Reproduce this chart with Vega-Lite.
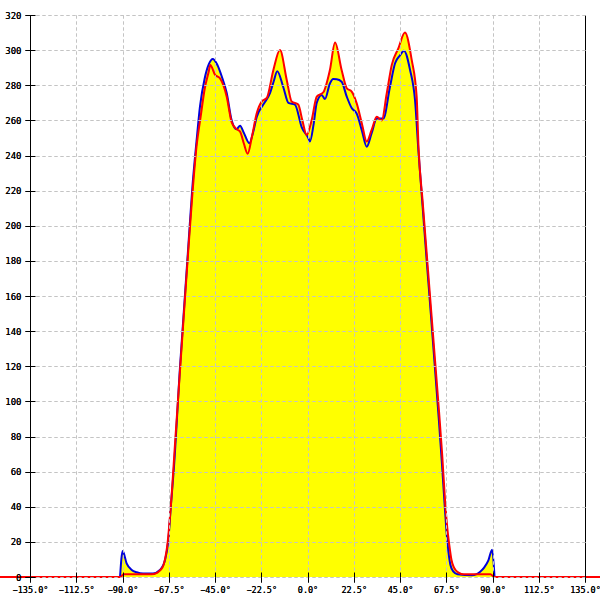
{
  "$schema": "https://vega.github.io/schema/vega-lite/v6.json",
  "width": 555,
  "height": 562,
  "autosize": "none",
  "padding": {"left": 30, "top": 15, "right": 15, "bottom": 23},
  "background": "white",
  "config": {
    "view": {"stroke": null},
    "axis": {
      "labelFont": "DejaVu Sans Mono",
      "labelFontSize": 9,
      "labelColor": "black",
      "tickColor": "black",
      "domainColor": "black",
      "gridColor": "#c4c4c4",
      "gridDash": [3, 3],
      "tickSize": 5,
      "titleFontSize": 0
    }
  },
  "resolve": {"axis": {"x": "independent", "y": "independent"}},
  "data": {
    "values": [
      {"s": "red", "a": -150, "v": 0},
      {"s": "red", "a": -91, "v": 0},
      {"s": "red", "a": -89.5, "v": 1.5},
      {"s": "red", "a": -76, "v": 1.5},
      {"s": "red", "a": -73, "v": 2.5},
      {"s": "red", "a": -71.5, "v": 4},
      {"s": "red", "a": -70, "v": 7},
      {"s": "red", "a": -69, "v": 12},
      {"s": "red", "a": -68, "v": 20},
      {"s": "red", "a": -67, "v": 33},
      {"s": "red", "a": -66, "v": 48},
      {"s": "red", "a": -64.5, "v": 75},
      {"s": "red", "a": -62, "v": 118},
      {"s": "red", "a": -60, "v": 152},
      {"s": "red", "a": -58, "v": 186},
      {"s": "red", "a": -56, "v": 218},
      {"s": "red", "a": -54, "v": 245},
      {"s": "red", "a": -52, "v": 262},
      {"s": "red", "a": -50, "v": 278},
      {"s": "red", "a": -48, "v": 288},
      {"s": "red", "a": -47.3, "v": 291.6},
      {"s": "red", "a": -45, "v": 286},
      {"s": "red", "a": -42.6, "v": 284},
      {"s": "red", "a": -39.3, "v": 273.5},
      {"s": "red", "a": -36.9, "v": 259},
      {"s": "red", "a": -34.5, "v": 255},
      {"s": "red", "a": -32.8, "v": 253.6},
      {"s": "red", "a": -31, "v": 247},
      {"s": "red", "a": -29.1, "v": 241},
      {"s": "red", "a": -27, "v": 251},
      {"s": "red", "a": -24.7, "v": 264},
      {"s": "red", "a": -22.3, "v": 270.7},
      {"s": "red", "a": -19.8, "v": 272.8},
      {"s": "red", "a": -16.6, "v": 288.7},
      {"s": "red", "a": -13.4, "v": 300},
      {"s": "red", "a": -10.1, "v": 283},
      {"s": "red", "a": -7.7, "v": 270.7},
      {"s": "red", "a": -4.5, "v": 269},
      {"s": "red", "a": -2.5, "v": 260},
      {"s": "red", "a": -0.4, "v": 251.7},
      {"s": "red", "a": 2, "v": 260},
      {"s": "red", "a": 4.5, "v": 273.5},
      {"s": "red", "a": 7.7, "v": 276},
      {"s": "red", "a": 10.9, "v": 288.7},
      {"s": "red", "a": 13.4, "v": 304.3},
      {"s": "red", "a": 16.6, "v": 288.7},
      {"s": "red", "a": 19.1, "v": 278.3},
      {"s": "red", "a": 21.5, "v": 276.4},
      {"s": "red", "a": 23.9, "v": 269.8},
      {"s": "red", "a": 26.5, "v": 258},
      {"s": "red", "a": 28.8, "v": 248},
      {"s": "red", "a": 31.2, "v": 254.6},
      {"s": "red", "a": 33.7, "v": 262},
      {"s": "red", "a": 36.1, "v": 260},
      {"s": "red", "a": 38.5, "v": 275},
      {"s": "red", "a": 41, "v": 291.6},
      {"s": "red", "a": 44.2, "v": 301},
      {"s": "red", "a": 47.4, "v": 310},
      {"s": "red", "a": 50.7, "v": 294.4},
      {"s": "red", "a": 53.1, "v": 273.5},
      {"s": "red", "a": 54, "v": 245},
      {"s": "red", "a": 56, "v": 214},
      {"s": "red", "a": 58, "v": 184},
      {"s": "red", "a": 60, "v": 154},
      {"s": "red", "a": 62, "v": 124},
      {"s": "red", "a": 64, "v": 94},
      {"s": "red", "a": 65.5, "v": 70},
      {"s": "red", "a": 67, "v": 42},
      {"s": "red", "a": 68, "v": 28},
      {"s": "red", "a": 69, "v": 18},
      {"s": "red", "a": 70, "v": 10},
      {"s": "red", "a": 71, "v": 6},
      {"s": "red", "a": 72, "v": 4},
      {"s": "red", "a": 73.5, "v": 2.5},
      {"s": "red", "a": 76, "v": 1.5},
      {"s": "red", "a": 89, "v": 1.5},
      {"s": "red", "a": 91, "v": 0},
      {"s": "red", "a": 143, "v": 0},

      {"s": "blue", "a": -91.2, "v": 0},
      {"s": "blue", "a": -89.9, "v": 14.8},
      {"s": "blue", "a": -88, "v": 7.8},
      {"s": "blue", "a": -85.5, "v": 4},
      {"s": "blue", "a": -83.1, "v": 2.7},
      {"s": "blue", "a": -80, "v": 2},
      {"s": "blue", "a": -75.2, "v": 2},
      {"s": "blue", "a": -71.8, "v": 4},
      {"s": "blue", "a": -69.3, "v": 9.7},
      {"s": "blue", "a": -67.7, "v": 21},
      {"s": "blue", "a": -66.5, "v": 40},
      {"s": "blue", "a": -65, "v": 62},
      {"s": "blue", "a": -62, "v": 120},
      {"s": "blue", "a": -60, "v": 154},
      {"s": "blue", "a": -58, "v": 188},
      {"s": "blue", "a": -56, "v": 222},
      {"s": "blue", "a": -54, "v": 248},
      {"s": "blue", "a": -52.3, "v": 268},
      {"s": "blue", "a": -50, "v": 284},
      {"s": "blue", "a": -48, "v": 292},
      {"s": "blue", "a": -46.1, "v": 295},
      {"s": "blue", "a": -44, "v": 292},
      {"s": "blue", "a": -41.7, "v": 285},
      {"s": "blue", "a": -39.3, "v": 275.6},
      {"s": "blue", "a": -36.9, "v": 260},
      {"s": "blue", "a": -34.5, "v": 255},
      {"s": "blue", "a": -32.8, "v": 257},
      {"s": "blue", "a": -31, "v": 253},
      {"s": "blue", "a": -28.3, "v": 247},
      {"s": "blue", "a": -26.5, "v": 253},
      {"s": "blue", "a": -24.7, "v": 262},
      {"s": "blue", "a": -21.5, "v": 269},
      {"s": "blue", "a": -18.2, "v": 275.6},
      {"s": "blue", "a": -16.5, "v": 282},
      {"s": "blue", "a": -14.7, "v": 288},
      {"s": "blue", "a": -11.8, "v": 279},
      {"s": "blue", "a": -9.3, "v": 270},
      {"s": "blue", "a": -6.1, "v": 269},
      {"s": "blue", "a": -2.8, "v": 256},
      {"s": "blue", "a": 0.4, "v": 250},
      {"s": "blue", "a": 1.2, "v": 248},
      {"s": "blue", "a": 3, "v": 258},
      {"s": "blue", "a": 4.5, "v": 270},
      {"s": "blue", "a": 6.9, "v": 274.5},
      {"s": "blue", "a": 8.5, "v": 272.2},
      {"s": "blue", "a": 10.9, "v": 281},
      {"s": "blue", "a": 12.5, "v": 283.5},
      {"s": "blue", "a": 14.2, "v": 283.4},
      {"s": "blue", "a": 16.6, "v": 282},
      {"s": "blue", "a": 19.1, "v": 273.5},
      {"s": "blue", "a": 21.5, "v": 267},
      {"s": "blue", "a": 23.9, "v": 264},
      {"s": "blue", "a": 26.5, "v": 254},
      {"s": "blue", "a": 28.8, "v": 245},
      {"s": "blue", "a": 31.2, "v": 252.7},
      {"s": "blue", "a": 33.7, "v": 261},
      {"s": "blue", "a": 36.9, "v": 261},
      {"s": "blue", "a": 40.1, "v": 279},
      {"s": "blue", "a": 42.6, "v": 292.5},
      {"s": "blue", "a": 45, "v": 297},
      {"s": "blue", "a": 46.9, "v": 299.7},
      {"s": "blue", "a": 49.9, "v": 288.7},
      {"s": "blue", "a": 52.3, "v": 271.6},
      {"s": "blue", "a": 54, "v": 242},
      {"s": "blue", "a": 56, "v": 211},
      {"s": "blue", "a": 58, "v": 180},
      {"s": "blue", "a": 60, "v": 150},
      {"s": "blue", "a": 62, "v": 119},
      {"s": "blue", "a": 64, "v": 88},
      {"s": "blue", "a": 65.5, "v": 63},
      {"s": "blue", "a": 66.5, "v": 45},
      {"s": "blue", "a": 67.5, "v": 28},
      {"s": "blue", "a": 68.5, "v": 15},
      {"s": "blue", "a": 69.5, "v": 7},
      {"s": "blue", "a": 71, "v": 3},
      {"s": "blue", "a": 73, "v": 1.5},
      {"s": "blue", "a": 80, "v": 1},
      {"s": "blue", "a": 82, "v": 1.5},
      {"s": "blue", "a": 84, "v": 3},
      {"s": "blue", "a": 86, "v": 5.5},
      {"s": "blue", "a": 88, "v": 9.5},
      {"s": "blue", "a": 89.8, "v": 15.5},
      {"s": "blue", "a": 91, "v": 0}
    ]
  },
  "encoding": {
    "x": {
      "field": "a",
      "type": "quantitative",
      "title": null,
      "scale": {"domain": [-135, 135], "nice": false, "zero": false},
      "axis": {
        "orient": "bottom",
        "values": [-135, -112.5, -90, -67.5, -45, -22.5, 0, 22.5, 45, 67.5, 90, 112.5, 135],
        "labelExpr": "format(datum.value, '.1f') + '°'",
        "labelFontSize": 8.5,
        "labelPadding": 3,
        "grid": true,
        "gridColor": {"condition": {"test": "datum.value === 135", "value": "black"}, "value": "#c4c4c4"},
        "gridDash": {"condition": {"test": "datum.value === 135", "value": []}, "value": [3, 3]},
        "domain": false,
        "zindex": 1,
        "labelFlush": false,
        "labelOverlap": false
      }
    },
    "y": {
      "field": "v",
      "type": "quantitative",
      "title": null,
      "stack": null,
      "scale": {"domain": [0, 320], "nice": false},
      "axis": {
        "orient": "left",
        "values": [0, 20, 40, 60, 80, 100, 120, 140, 160, 180, 200, 220, 240, 260, 280, 300, 320],
        "labelPadding": 4,
        "grid": true,
        "zindex": 1,
        "labelFlush": false,
        "labelOverlap": false
      }
    },
    "detail": {"field": "s"}
  },
  "layer": [
    {
      "mark": {"type": "area", "color": "#ffff00", "interpolate": "monotone", "clip": false}
    },
    {
      "transform": [{"filter": "datum.s === 'blue'"}],
      "mark": {"type": "line", "color": "#0000dd", "strokeWidth": 2, "interpolate": "monotone"}
    },
    {
      "transform": [{"filter": "datum.s === 'red'"}],
      "mark": {"type": "line", "color": "#ff0000", "strokeWidth": 2, "interpolate": "monotone"},
      "encoding": {
        "x": {
          "field": "a",
          "type": "quantitative",
          "axis": {
            "orient": "bottom",
            "values": [-135, -112.5, -90, -67.5, -45, -22.5, 0, 22.5, 45, 67.5, 90, 112.5, 135],
            "labels": false,
            "grid": false,
            "domain": false,
            "tickSize": -5,
            "zindex": 1,
            "title": null
          }
        },
        "y": {
          "field": "v",
          "type": "quantitative",
          "stack": null,
          "axis": {
            "orient": "left",
            "values": [0, 20, 40, 60, 80, 100, 120, 140, 160, 180, 200, 220, 240, 260, 280, 300, 320],
            "labels": false,
            "grid": false,
            "domain": false,
            "tickSize": -5,
            "zindex": 1,
            "title": null
          }
        }
      }
    }
  ]
}
